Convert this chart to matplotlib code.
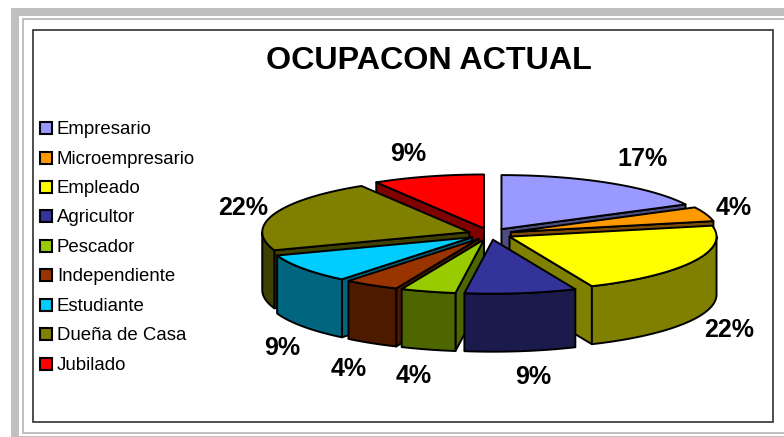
import numpy as np
import matplotlib
matplotlib.use("Agg")
import matplotlib.pyplot as plt
from matplotlib.patches import Polygon, Rectangle

plt.rcParams['font.family'] = ['Liberation Sans', 'DejaVu Sans']

# --- data ---
categories = ['Empresario', 'Microempresario', 'Empleado', 'Agricultor', 'Pescador',
              'Independiente', 'Estudiante', 'Dueña de Casa', 'Jubilado']
values = [17.4, 4.3, 21.7, 8.7, 4.3, 4.3, 8.7, 21.7, 8.7]
title = 'OCUPACON ACTUAL'

# --- styles ---
top_colors = ['#9999FF', '#FF9900', '#FFFF00', '#333399', '#99CC00',
              '#993300', '#00CCFF', '#808000', '#FF0000']
side_colors = ['#4D4D80', '#804D00', '#808000', '#1A1A4D', '#4D6600',
               '#4D1A00', '#006680', '#404000', '#800000']

# --- layout (pixels) ---
W, H = 784, 437
CX, CY = 490, 234
RX, RY = 207, 54
DEPTH = 58
EXPLODE = 22
LW = 1.4
label_centers = [(643, 159), (734, 208), (729, 330), (533, 377), (414, 376),
                 (349, 369), (282, 348), (243, 208), (408, 154)]
legend_rows = [128, 158, 187, 216, 246, 275, 305, 334, 364]

fig = plt.figure(figsize=(W / 100, H / 100), dpi=100)
ax = fig.add_axes([0, 0, 1, 1])
ax.set_xlim(0, W)
ax.set_ylim(H, 0)
ax.axis('off')

# frame
GREY = '#C0C0C0'
ax.add_patch(Rectangle((11, 8), W - 11, H - 8, fc=GREY, ec='none', zorder=0))
ax.add_patch(Rectangle((19.5, 16), W - 19.5, H - 16 - 1, fc='white', ec='none', zorder=0.1))
ax.add_patch(Rectangle((22, 18), W - 22, 434 - 18, fc=GREY, ec='none', zorder=0.2))
ax.add_patch(Rectangle((24, 20), W - 24, 432 - 20, fc='white', ec='none', zorder=0.3))
ax.add_patch(Rectangle((33.5, 30), 740, 392, fc='white', ec='#303030', lw=1.2, zorder=0.4))

ax.text(428.5, 61, title, fontsize=23.2, fontweight='bold', ha='center', va='center', color='black')


def ell(a, c):
    return c[0] + RX * np.sin(a), c[1] - RY * np.cos(a)


# slices from values
total = sum(values)
edges = np.radians(np.cumsum([0] + values) / total * 360)
order = sorted(range(len(values)), key=lambda i: -np.cos((edges[i] + edges[i + 1]) / 2))
kw = dict(ec='black', lw=LW, joinstyle='round')
for z, i in enumerate(order):
    a0, a1 = edges[i], edges[i + 1]
    mid = (a0 + a1) / 2
    c = (CX + EXPLODE * np.sin(mid), CY - EXPLODE * RY / RX * np.cos(mid))
    zz = 2 + z
    # radial faces that look towards the viewer
    for a, visible in ((a0, np.sin(a0) < -1e-6), (a1, np.sin(a1) > 1e-6)):
        if visible:
            x, y = ell(a, c)
            ax.add_patch(Polygon([c, (x, y), (x, y + DEPTH), (c[0], c[1] + DEPTH)],
                                 fc=side_colors[i], zorder=zz, **kw))
    # outer wall: front half of the rim
    lo, hi = max(a0, np.pi / 2), min(a1, 3 * np.pi / 2)
    if hi > lo:
        t = np.linspace(lo, hi, 60)
        x, y = ell(t, c)
        ax.add_patch(Polygon(np.r_[np.c_[x, y], np.c_[x[::-1], y[::-1] + DEPTH]],
                             fc=side_colors[i], zorder=zz, **kw))
    # top
    t = np.linspace(a0, a1, 80)
    x, y = ell(t, c)
    ax.add_patch(Polygon(np.r_[[c], np.c_[x, y]], fc=top_colors[i], zorder=zz, **kw))

# percentage labels
for v, (lx, ly) in zip(values, label_centers):
    ax.text(lx, ly, f'{v:.0f}%', fontsize=18, fontweight='bold', ha='center', va='center',
            color='black', zorder=50)

# legend
for name, col, ry in zip(categories, top_colors, legend_rows):
    ax.add_patch(Rectangle((40, ry - 6), 12, 12, fc=col, ec='black', lw=1.5, zorder=40))
    ax.text(57, ry + 1.5, name, fontsize=13.4, ha='left', va='center', color='black', zorder=40)

fig.savefig('out.png', dpi=100)
